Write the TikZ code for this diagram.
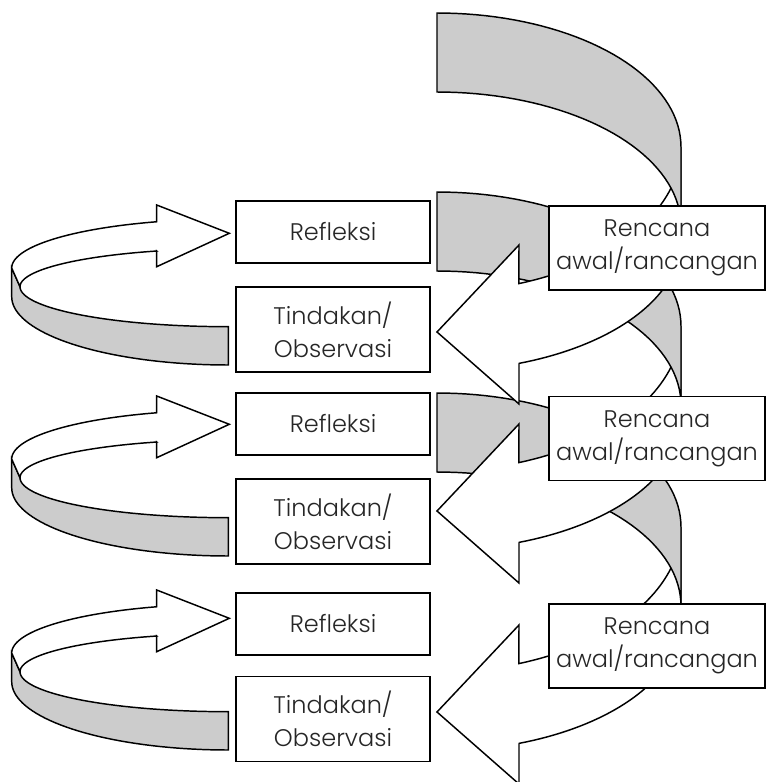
\documentclass[tikz,border=0pt]{standalone}
\usepackage{fontspec}
\setmainfont{Poppins}[UprightFont=* Light]
\definecolor{band}{HTML}{CCCCCC}
\definecolor{txt}{HTML}{262626}
\begin{document}
\begin{tikzpicture}[x=0.75pt,y=-0.75pt]
\tikzset{
  ink/.style={line width=1.1pt, draw=black, line join=miter},
  backband/.style={ink, fill=band},
  frontband/.style={ink, fill=white},
  boxbase/.style={ink, fill=white, rectangle, inner sep=0pt, align=center, text=txt,
     font=\fontsize{18}{25}\selectfont},
  leftbox/.style={boxbase, minimum width=145.5pt},
  refbox/.style={leftbox, minimum height=46.5pt},
  tinbox/.style={leftbox, minimum height=63.75pt},
  renbox/.style={boxbase, minimum width=162pt, minimum height=63pt},
}
\useasboundingbox (0,0) rectangle (767,782);

% right curved arrows (drawn bottom cycle first)
\foreach \dy in {380,179,0}{
  \filldraw[frontband] (519,{245+\dy}) -- (437,{332+\dy}) -- (519,{404+\dy}) -- (519,{363.4+\dy})
    -- plot[domain=70.4:0,samples=40,variable=\t] ({437+244*cos(\t)},{240+\dy+131*sin(\t)})
    -- (681,{147+\dy})
    -- plot[domain=0:70.4,samples=40,variable=\t] ({437+244*cos(\t)},{147+\dy+145*sin(\t)})
    -- cycle;
  \filldraw[backband] (437,{13+\dy})
    -- plot[domain=-90:0,samples=40,variable=\t] ({437+244*cos(\t)},{147+\dy+134*sin(\t)})
    -- (681,{226+\dy})
    -- plot[domain=0:-90,samples=40,variable=\t] ({437+244*cos(\t)},{226+\dy+134*sin(\t)})
    -- cycle;
}

% left curved arrows
\foreach \ey in {0,191,385}{
  \filldraw[backband] (11.7,{268+\ey}) -- (11.7,{296.7+\ey})
    -- plot[domain=180:90,samples=40,variable=\t] ({228.3+216.6*cos(\t)},{296.7+\ey+68.3*sin(\t)})
    -- (228.3,{326.7+\ey})
    -- plot[domain=90:180,samples=40,variable=\t] ({228.3+208.3*cos(\t)},{286.7+\ey+40*sin(\t)})
    -- cycle;
  \filldraw[frontband] (11.7,{268+\ey})
    -- plot[domain=180:250.7,samples=40,variable=\t] ({228.3+216.6*cos(\t)},{268+\ey+49*sin(\t)})
    -- (156.7,{205+\ey}) -- (229.3,{233.3+\ey}) -- (156.7,{266.7+\ey}) -- (156.7,{251+\ey})
    -- plot[domain=249.9:180,samples=40,variable=\t] ({228.3+208.3*cos(\t)},{286.7+\ey+38*sin(\t)})
    -- cycle;
}

% boxes
\node[refbox] (ref1) at (333,232) {Refleksi};
\node[tinbox] (tin1) at (333,329.5) {Tindakan/\\Observasi};
\node[refbox] (ref2) at (333,424) {Refleksi};
\node[tinbox] (tin2) at (333,521.5) {Tindakan/\\Observasi};
\node[refbox] (ref3) at (333,624) {Refleksi};
\node[tinbox] (tin3) at (333,719) {Tindakan/\\Observasi};
\node[renbox] (ren1) at (657,248) {Rencana\\awal/rancangan};
\node[renbox] (ren2) at (657,438.5) {Rencana\\awal/rancangan};
\node[renbox] (ren3) at (657,646) {Rencana\\awal/rancangan};
\end{tikzpicture}
\end{document}
